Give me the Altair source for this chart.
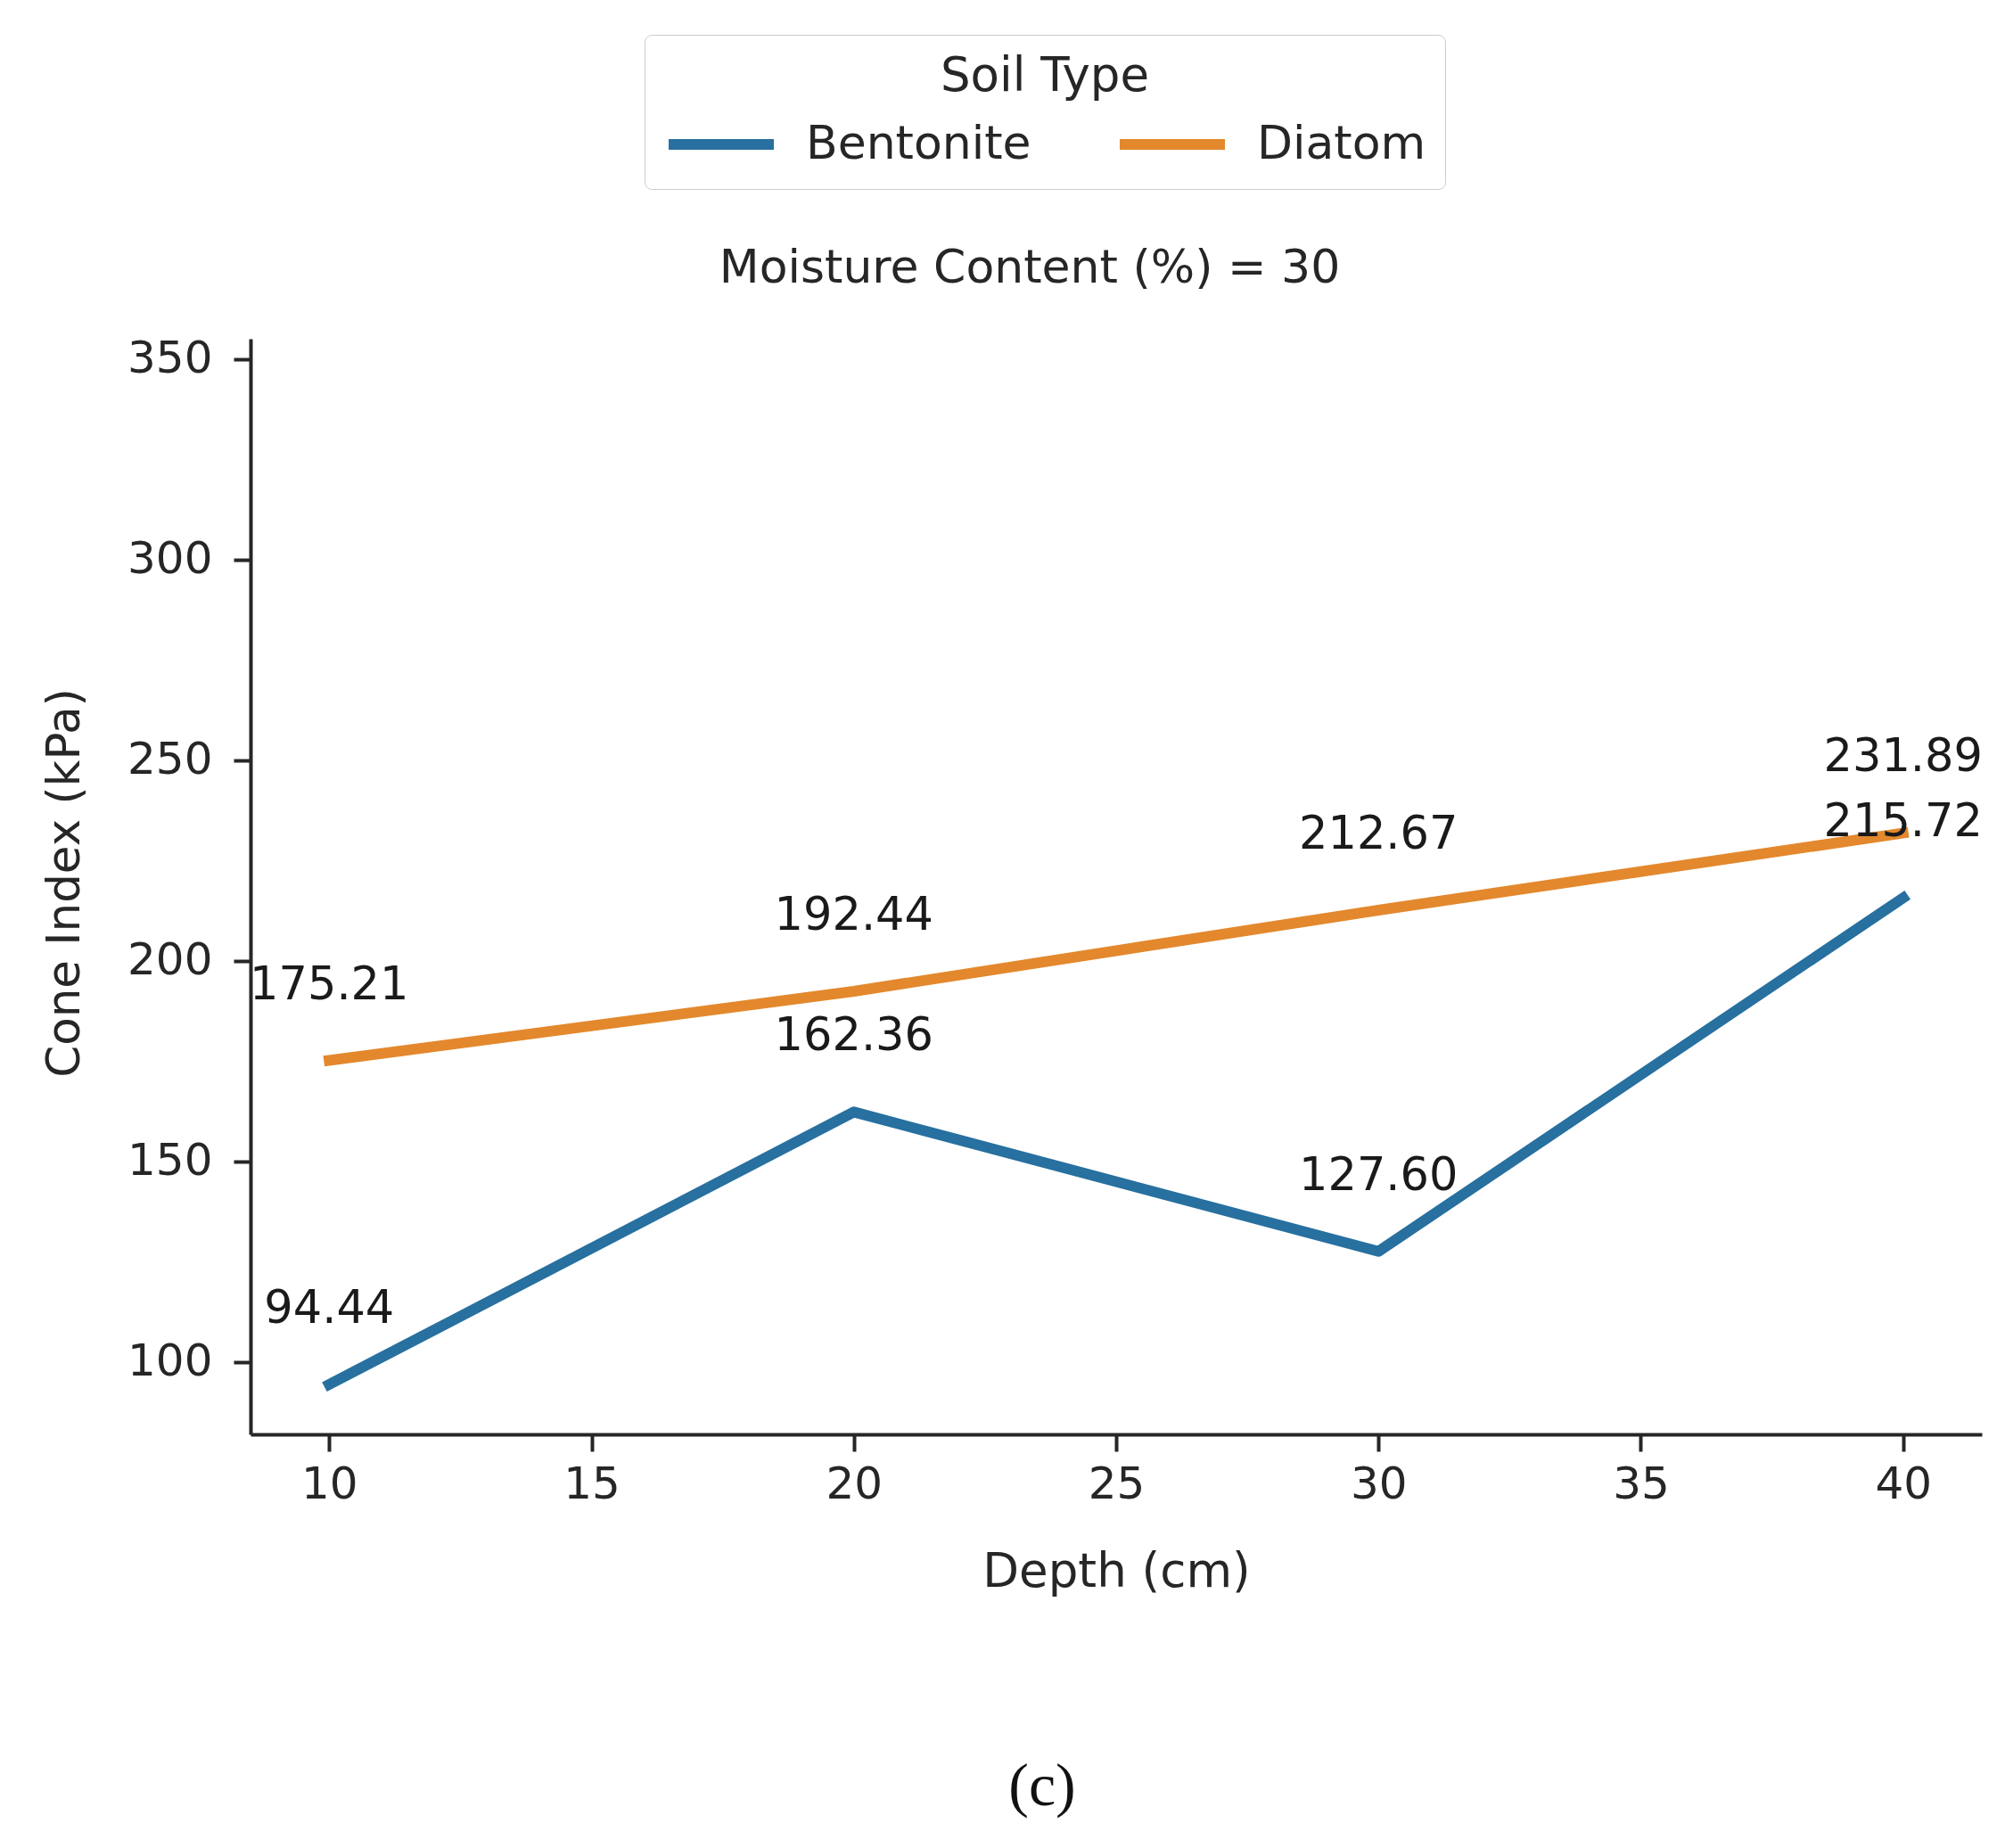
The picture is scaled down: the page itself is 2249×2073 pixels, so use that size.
import altair as alt
import pandas as pd

# ---- data ----
depth = [10, 20, 30, 40]
bentonite = [94.44, 162.36, 127.60, 215.72]
diatom = [175.21, 192.44, 212.67, 231.89]
soil_types = ["Bentonite", "Diatom"]
colors = ["#27709f", "#e3882d"]
x_ticks = [10, 15, 20, 25, 30, 35, 40]
y_ticks = [100, 150, 200, 250, 300, 350]

rows = []
for d, b in zip(depth, bentonite):
    rows.append({"Depth": d, "Cone": b, "Soil Type": "Bentonite"})
for d, v in zip(depth, diatom):
    rows.append({"Depth": d, "Cone": v, "Soil Type": "Diatom"})
df = pd.DataFrame(rows)

FONT = "DejaVu Sans"
TXT = "#262626"

x_enc = alt.X(
    "Depth:Q",
    scale=alt.Scale(domain=[8.5, 41.5], nice=False, zero=False),
    axis=alt.Axis(
        values=x_ticks, format="d", title="Depth (cm)", labelBaseline="alphabetic",
        labelPadding=52, titleX=971, titleY=170, titleAlign="center",
        titleBaseline="alphabetic", titleFontSize=53, labelFontSize=50,
    ),
)
y_enc = alt.Y(
    "Cone:Q",
    scale=alt.Scale(domain=[82.0, 355.1], nice=False, zero=False),
    axis=alt.Axis(
        values=y_ticks, format="d", title="Cone Index (kPa)", labelPadding=24,
        titleX=-193, titleY=610, titleAngle=270, titleAlign="center",
        titleBaseline="alphabetic", titleFontSize=51.5, labelFontSize=50,
    ),
)

lines = alt.Chart(df).mark_line(
    strokeWidth=12, strokeCap="square", strokeJoin="round"
).encode(
    x=x_enc,
    y=y_enc,
    color=alt.Color(
        "Soil Type:N",
        scale=alt.Scale(domain=soil_types, range=colors),
        legend=alt.Legend(
            orient="none", legendX=442, legendY=-341, direction="horizontal",
            title="Soil Type", titleAnchor="middle", titleFontSize=53,
            titleFont=FONT, titleFontWeight="normal", titleColor=TXT,
            titlePadding=20, titleLimit=0, labelLimit=0,
            labelFontSize=52, labelFont=FONT, labelColor=TXT,
            labelOffset=30, symbolType="stroke", symbolSize=13924,
            symbolStrokeWidth=12, columnPadding=93, padding=21,
            strokeColor="#cccccc", fillColor="white", cornerRadius=8,
            clipHeight=58,
        ),
    ),
)

labels = alt.Chart(df).mark_text(
    font=FONT, fontSize=51, color="#1a1a1a", align="center",
    baseline="alphabetic", dy=-69,
).encode(
    x="Depth:Q",
    y="Cone:Q",
    text=alt.Text("Cone:Q", format=".2f"),
)

caption = alt.Chart(pd.DataFrame({"t": ["(c)"]})).mark_text(
    font="Liberation Serif", fontSize=68, color="#111111", align="center",
    baseline="alphabetic",
).encode(
    x=alt.value(888), y=alt.value(1645), text="t:N"
)

chart = alt.layer(lines, labels, caption).properties(
    width=1942,
    height=1229,
    padding={"left": 273, "top": 372, "right": 18, "bottom": 448},
    autosize=alt.AutoSizeParams(type="none"),
    title=alt.TitleParams(
        "Moisture Content (%) = 30", anchor="middle", dx=-97, offset=-330,
        baseline="alphabetic", fontSize=52, fontWeight="normal", font=FONT,
        color=TXT,
    ),
).configure(background="white").configure_view(stroke=None).configure_axis(
    grid=False, domainColor=TXT, domainWidth=4, tickColor=TXT, tickWidth=4,
    tickSize=19, labelFont=FONT, labelColor=TXT, titleFont=FONT,
    titleColor=TXT, titleFontWeight="normal",
)

chart.save("out.html", embed_options={"renderer": "svg", "actions": False})
